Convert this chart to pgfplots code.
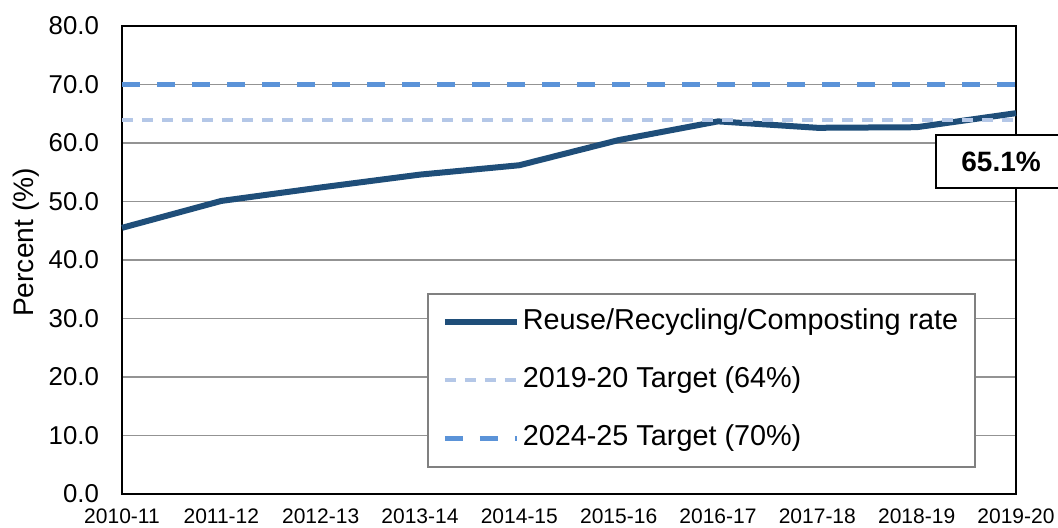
\documentclass[border=0pt]{standalone}
\usepackage{fontspec}
\setmainfont{Liberation Sans}
\usepackage{pgfplots}
\pgfplotsset{compat=1.18}

\definecolor{rate}{HTML}{1F4E79}
\definecolor{tgtlow}{HTML}{B4C7E7}
\definecolor{tgthigh}{HTML}{5B93D8}

\begin{document}
\begin{tikzpicture}
\begin{axis}[
    at={(0,0)}, anchor=south west,
    scale only axis, width=447pt, height=234pt,
    xmin=0, xmax=9, ymin=0, ymax=80,
    xtick={0,...,9},
    xticklabels={2010-11,2011-12,2012-13,2013-14,2014-15,2015-16,2016-17,2017-18,2018-19,2019-20},
    ytick={0,10,...,80},
    major tick length=0pt,
    x tick label style={font=\fontsize{10.5}{12}\selectfont, yshift=-4pt},
    y tick label style={font=\fontsize{12.9}{15}\selectfont, xshift=-8pt,
        /pgf/number format/.cd, fixed, fixed zerofill, precision=1, assume math mode=true},
    ylabel={Percent (\%)},
    every axis y label/.style={at={(axis description cs:-0.1074,0.5374)},
        rotate=90, anchor=center, font=\fontsize{14.1}{16}\selectfont},
    ymajorgrids,
    grid style={gray!85, line width=0.9pt},
    axis line style={black, line width=1pt},
    clip=false,
    legend style={at={(0.3412,0.4295)}, anchor=north west, draw=gray, line width=0.8pt,
        font=\fontsize{14.4}{17}\selectfont, inner xsep=7pt, inner ysep=6pt,
        row sep=12.5pt, column sep=0pt,
        nodes={inner sep=1.5pt, text height=10.5pt, text depth=3pt}},
    legend cell align=left,
    legend image code/.code={\draw[#1] (0pt,0pt) -- (36pt,0pt);},
]
\addplot[rate, line width=3pt, line join=round] coordinates {
    (0,45.5) (1,50.1) (2,52.4) (3,54.6) (4,56.2)
    (5,60.5) (6,63.7) (7,62.6) (8,62.7) (9,65.1)};
\addlegendentry{Reuse/Recycling/Composting rate}

\addplot[tgtlow, line width=2pt, dash pattern=on 5.5pt off 4.5pt] coordinates {(0,64) (9,64)};
\addlegendentry{2019-20 Target (64\%)}

\addplot[tgthigh, line width=2.5pt, dash pattern=on 9pt off 8.5pt] coordinates {(0,70) (9,70)};
\addlegendentry{2024-25 Target (70\%)}

\node[draw=black, line width=0.8pt, fill=white, minimum width=65pt, minimum height=26.5pt,
      font=\bfseries\fontsize{14}{16}\selectfont, inner sep=0pt]
      at (axis cs:8.85,56.8) {65.1\%};
\end{axis}
\pgfresetboundingbox
\path[use as bounding box] (-61pt,-16.5pt) rectangle (468pt,247pt);
\end{tikzpicture}
\end{document}
